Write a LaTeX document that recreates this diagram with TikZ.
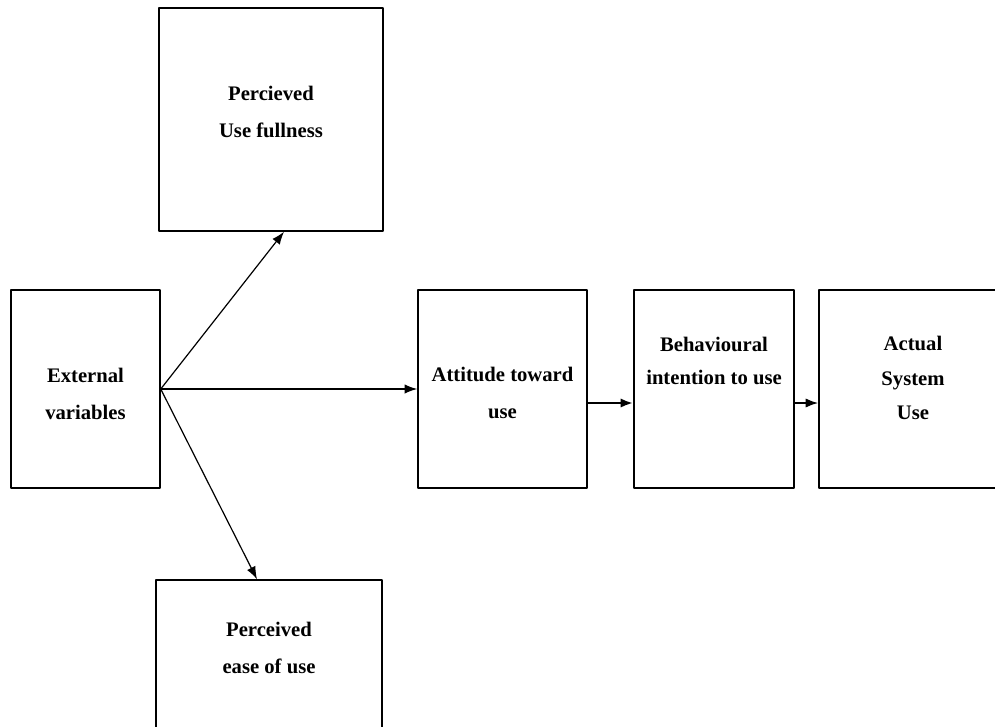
\documentclass[tikz,border=0pt]{standalone}
\usepackage{fontspec}
\setmainfont{Liberation Serif}
\usetikzlibrary{arrows.meta,calc}
\begin{document}
\begin{tikzpicture}[x=0.75pt,y=-0.75pt,>={Latex[length=9.5pt,width=7pt]},line join=round,
	box/.style={draw,line width=1.1pt,inner sep=0pt},
	txt/.style={align=center,font=\bfseries\fontsize{15.5pt}{27.75pt}\selectfont,inner sep=0pt}]
		\useasboundingbox (0,0) rectangle (995,726);
		% boxes
		\node[box,minimum width=224*0.75pt,minimum height=223*0.75pt] (pu) at (271,119.5) {};
		\node[box,minimum width=149*0.75pt,minimum height=198*0.75pt] (ev) at (85.5,389) {};
		\node[box,minimum width=169*0.75pt,minimum height=198*0.75pt] (at) at (502.5,389) {};
		\node[box,minimum width=160*0.75pt,minimum height=198*0.75pt] (bi) at (714,389) {};
		\node[box,minimum width=200*0.75pt,minimum height=198*0.75pt] (act) at (919,389) {};
		\node[box,minimum width=226*0.75pt,minimum height=224*0.75pt] (peu) at (269,692) {};
		% texts
		\node[txt] (putxt) at (271,112) {Percieved\\Use fullness};
		\node[txt] (evtxt) at (85.5,394) {External\\variables};
		\node[txt] (attxt) at (502.5,393) {Attitude toward\\use};
		\node[txt,font=\bfseries\fontsize{15.5pt}{24.75pt}\selectfont] (bitxt) at (714,361) {Behavioural\\intention to use};
		\node[txt,font=\bfseries\fontsize{15.5pt}{26pt}\selectfont] (acttxt) at (913,378) {Actual\\System\\Use};
		\node[txt] (peutxt) at (269,648) {Perceived\\ease of use};
		% arrows
		\draw[->,line width=0.9pt] (ev.east) -- ($(pu.south)+(13,0)$);
		\draw[->,line width=0.9pt] (ev.east) -- (at.west);
		\draw[->,line width=0.9pt] (ev.east) -- ($(peu.north)+(-12,0)$);
		\draw[->,line width=2pt] ($(at.east)+(0,14)$) -- ($(bi.west)+(0,14)$);
		\draw[->,line width=1.4pt] ($(bi.east)+(0,14)$) -- ($(act.west)+(0,14)$);
\end{tikzpicture}
\end{document}
